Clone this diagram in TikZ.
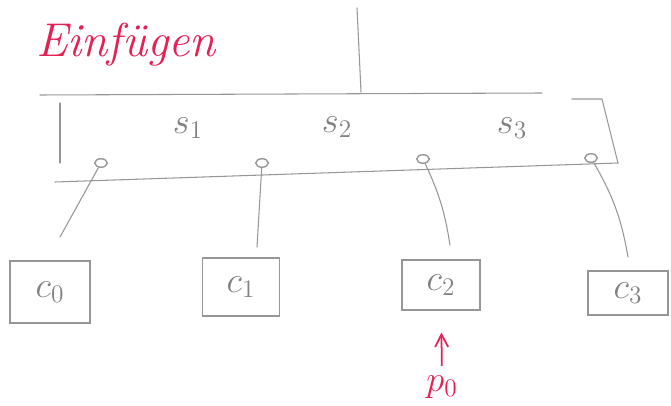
\documentclass[tikz,border=0pt]{standalone}
\usepackage{tikz}
\usetikzlibrary{arrows.meta,shapes.geometric}
\definecolor{pencil}{RGB}{150,150,150}
\definecolor{marker}{RGB}{228,32,84}
\tikzset{
  stroke/.style={draw=pencil, line width=0.6pt, line cap=round},
  child/.style={stroke, rectangle, inner sep=0pt, text=pencil!85!black,
                font=\fontsize{22}{26}\selectfont},
  ptr/.style={stroke, line width=0.8pt, ellipse, minimum width=0.25cm,
              minimum height=0.17cm, inner sep=0pt},
  keylabel/.style={text=pencil!85!black, font=\fontsize{22}{26}\selectfont},
  redtext/.style={text=marker},
}
\begin{document}
\begin{tikzpicture}[x=0.02cm, y=-0.02cm]
  \useasboundingbox (0,0) rectangle (671,405);

  % heading
  \node[redtext, font=\itshape\fontsize{27}{30}\selectfont, anchor=west] (title) at (30,45) {Einfügen};

  % link from the parent down to the node
  \coordinate (parent) at (357,8);
  \coordinate (entry) at (361,92);
  \draw[stroke] (parent) -- (entry);

  % inner node frame (open corners, as drawn)
  \coordinate (tl) at (40,95);
  \coordinate (tm) at (542,93);
  \coordinate (tr0) at (572,99);
  \coordinate (tr) at (602,99);
  \coordinate (br) at (618,163);
  \coordinate (bl) at (55,182);
  \coordinate (lt) at (60,103);
  \coordinate (lb) at (60,163);
  \draw[stroke] (tl) -- (tm);
  \draw[stroke] (tr0) -- (tr) -- (br);
  \draw[stroke] (bl) -- (br);
  \draw[stroke] (lt) -- (lb);

  % keys
  \node[keylabel] (s1) at (188,128) {$s_1$};
  \node[keylabel] (s2) at (337,127) {$s_2$};
  \node[keylabel] (s3) at (512,128) {$s_3$};

  % child pointers
  \node[ptr] (k0) at (101,163) {};
  \node[ptr] (k1) at (262,163) {};
  \node[ptr] (k2) at (423,159) {};
  \node[ptr] (k3) at (591,158) {};

  % children
  \node[child, minimum width=80*0.02cm, minimum height=62*0.02cm] (c0) at (50,292) {$c_0$};
  \node[child, minimum width=77*0.02cm, minimum height=58*0.02cm] (c1) at (241,287) {$c_1$};
  \node[child, minimum width=78*0.02cm, minimum height=50*0.02cm] (c2) at (441,285) {$c_2$};
  \node[child, minimum width=80*0.02cm, minimum height=44*0.02cm] (c3) at (628,293) {$c_3$};

  % pointer lines ending just above each child
  \coordinate (e0) at (60,237);
  \coordinate (e1) at (257,247);
  \coordinate (e2) at (450,245);
  \coordinate (e3) at (628,257);
  \draw[stroke] (k0) -- (e0);
  \draw[stroke] (k1) -- (e1);
  \draw[stroke] (k2) to[bend left=8] (e2);
  \draw[stroke] (k3) to[bend left=10] (e3);

  % position marker
  \node[redtext, font=\fontsize{20}{24}\selectfont] (p0) at (442,387) {$p_0$};
  \draw[draw=marker, line width=1pt, -{Straight Barb[length=2.5mm,width=2.6mm]},
        shorten <=2pt, shorten >=22*0.02cm] (p0) -- (c2);
\end{tikzpicture}
\end{document}
